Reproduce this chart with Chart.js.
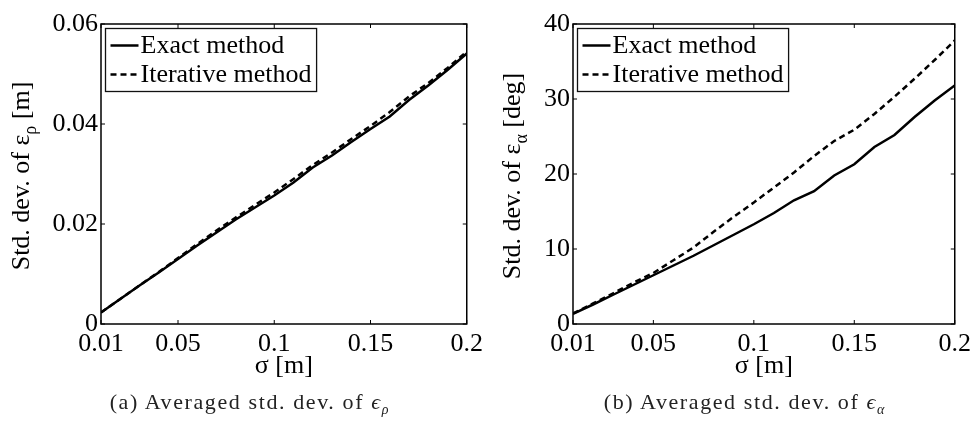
<!DOCTYPE html>
<html>
<head>
<meta charset="utf-8">
<script src="https://cdn.jsdelivr.net/npm/chart.js@4.4.1/dist/chart.umd.min.js"></script>
<style>
  html, body { margin: 0; padding: 0; background: #fff; }
  #fig { position: relative; width: 976px; height: 428px; overflow: hidden; }
  .panel { position: absolute; top: 0; width: 488px; height: 390px; }
  .caption {
    position: absolute; top: 389px; width: 488px; text-align: center;
    font-family: 'Liberation Serif', serif; font-size: 22px; letter-spacing: 1.6px; color: #222;
  }
  .caption sub { font-size: 14px; letter-spacing: 0; }
</style>
</head>
<body>
<div id="fig">
  <div class="panel" style="left:0"><canvas id="rhoChart" width="488" height="390"></canvas></div>
  <div class="panel" style="left:488px"><canvas id="alphaChart" width="488" height="390"></canvas></div>
  <div class="caption" style="left:5px">(a) Averaged std. dev. of <i>ϵ<sub>ρ</sub></i></div>
  <div class="caption" style="left:500px">(b) Averaged std. dev. of <i>ϵ<sub>α</sub></i></div>
</div>
<script>
// noise level sigma [m]
const sigma = [0.01, 0.02, 0.03, 0.04, 0.05, 0.06, 0.07, 0.08, 0.09, 0.10,
               0.11, 0.12, 0.13, 0.14, 0.15, 0.16, 0.17, 0.18, 0.19, 0.20];

// std. dev. of range error [m]
const exactRho = [0.0023, 0.0050, 0.0077, 0.0103, 0.0130, 0.0157, 0.0183, 0.0209, 0.0233, 0.0257,
                  0.0283, 0.0313, 0.0337, 0.0364, 0.0390, 0.0415, 0.0448, 0.0477, 0.0508, 0.0541];
const iterRho  = [0.0023, 0.0050, 0.0077, 0.0104, 0.0132, 0.0160, 0.0187, 0.0213, 0.0238, 0.0263,
                  0.0290, 0.0318, 0.0343, 0.0370, 0.0396, 0.0424, 0.0455, 0.0482, 0.0512, 0.0545];

// std. dev. of angle error [deg]
const exactAlpha = [1.35, 2.6, 3.9, 5.2, 6.5, 7.8, 9.1, 10.5, 11.9, 13.3,
                    14.8, 16.5, 17.7, 19.8, 21.3, 23.6, 25.2, 27.6, 29.8, 31.8];
const iterAlpha  = [1.4, 2.75, 4.1, 5.5, 6.8, 8.5, 10.2, 12.3, 14.3, 16.2,
                    18.2, 20.2, 22.4, 24.4, 25.9, 28.0, 30.3, 32.7, 35.2, 37.8];

const sigmaTicks = [0.01, 0.05, 0.1, 0.15, 0.2];
const rhoTicks = [0, 0.02, 0.04, 0.06];
const alphaTicks = [0, 10, 20, 30, 40];
const methodNames = ['Exact method', 'Iterative method'];

Chart.defaults.font.family = "'Liberation Serif', serif";
Chart.defaults.font.size = 26;
Chart.defaults.color = '#000';

// box around the plot with inward tick marks on all four sides
const frameTicks = {
  id: 'frameTicks',
  afterDatasetsDraw(chart) {
    const { ctx, chartArea: a, scales: { x, y } } = chart;
    const len = 4;
    ctx.save();
    ctx.strokeStyle = '#000';
    ctx.lineWidth = 1;
    ctx.beginPath();
    x.ticks.forEach(t => {
      const px = x.getPixelForValue(t.value);
      ctx.moveTo(px, a.bottom); ctx.lineTo(px, a.bottom - len);
      ctx.moveTo(px, a.top); ctx.lineTo(px, a.top + len);
    });
    y.ticks.forEach(t => {
      const py = y.getPixelForValue(t.value);
      ctx.moveTo(a.left, py); ctx.lineTo(a.left + len, py);
      ctx.moveTo(a.right, py); ctx.lineTo(a.right - len, py);
    });
    ctx.stroke();
    ctx.lineWidth = 1.5;
    ctx.strokeRect(a.left, a.top, a.right - a.left, a.bottom - a.top);
    ctx.restore();
  }
};

// boxed legend in the upper left corner of the plot
const boxLegend = {
  id: 'boxLegend',
  afterDraw(chart) {
    const { ctx, chartArea: a } = chart;
    const sets = chart.data.datasets;
    ctx.save();
    ctx.font = "26px 'Liberation Serif', serif";
    const textW = Math.max(...sets.map(d => ctx.measureText(d.label).width));
    const bx = a.left + 4.5, by = a.top + 4.5;
    const bw = 36 + textW + 4, bh = 63;
    ctx.fillStyle = '#fff';
    ctx.fillRect(bx, by, bw, bh);
    ctx.strokeStyle = '#111';
    ctx.lineWidth = 1.3;
    ctx.strokeRect(bx, by, bw, bh);
    sets.forEach((d, i) => {
      const cy = by + 17 + i * 29;
      ctx.beginPath();
      ctx.setLineDash(d.borderDash || []);
      ctx.lineWidth = d.borderWidth;
      ctx.strokeStyle = d.borderColor;
      ctx.moveTo(bx + 5, cy);
      ctx.lineTo(bx + 33, cy);
      ctx.stroke();
      ctx.setLineDash([]);
      ctx.fillStyle = '#000';
      ctx.textBaseline = 'middle';
      ctx.fillText(d.label, bx + 35, cy + 1);
    });
    ctx.restore();
  }
};

// rotated y title with a subscript
function yTitle(main, sub, tail, cx) {
  return {
    id: 'yTitle',
    afterDraw(chart) {
      const { ctx, chartArea: a } = chart;
      const big = "26px 'Liberation Serif', serif";
      const small = "18px 'Liberation Serif', serif";
      ctx.save();
      ctx.font = big;
      const w1 = ctx.measureText(main).width;
      const w3 = ctx.measureText(tail).width;
      ctx.font = small;
      const w2 = ctx.measureText(sub).width;
      const total = w1 + w2 + w3;
      ctx.translate(cx, (a.top + a.bottom) / 2 + 2);
      ctx.rotate(-Math.PI / 2);
      ctx.fillStyle = '#000';
      ctx.textBaseline = 'middle';
      let x0 = -total / 2;
      ctx.font = big;
      ctx.fillText(main, x0, 0);
      ctx.font = small;
      ctx.fillText(sub, x0 + w1, 9);
      ctx.font = big;
      ctx.fillText(tail, x0 + w1 + w2, 0);
      ctx.restore();
    }
  };
}

function makeChart(id, exact, iter, yTicks, yLabel, yWidth, padRight) {
  return new Chart(document.getElementById(id), {
    type: 'line',
    data: {
      labels: sigma,
      datasets: [{
        label: methodNames[0],
        data: exact,
        borderColor: '#000',
        borderWidth: 2.5,
        pointRadius: 0,
        tension: 0
      }, {
        label: methodNames[1],
        data: iter,
        borderColor: '#000',
        borderWidth: 2.5,
        borderDash: [6, 4],
        pointRadius: 0,
        tension: 0
      }]
    },
    options: {
      responsive: false,
      animation: false,
      layout: { padding: { left: 0, right: padRight, top: 24, bottom: 0 } },
      plugins: { legend: { display: false }, tooltip: { enabled: false } },
      scales: {
        x: {
          type: 'linear',
          min: sigmaTicks[0],
          max: sigmaTicks[sigmaTicks.length - 1],
          afterBuildTicks: s => { s.ticks = sigmaTicks.map(v => ({ value: v })); },
          afterFit: s => { s.height = 66; },
          grid: { display: false, drawTicks: false },
          border: { display: false },
          ticks: { padding: 5, maxRotation: 0, autoSkip: false, callback: v => String(v) },
          title: { display: true, text: 'σ [m]', padding: { top: 0, bottom: 8 } }
        },
        y: {
          min: yTicks[0],
          max: yTicks[yTicks.length - 1],
          afterBuildTicks: s => { s.ticks = yTicks.map(v => ({ value: v })); },
          afterFit: s => { s.width = yWidth; },
          grid: { display: false, drawTicks: false },
          border: { display: false },
          ticks: { padding: 3, callback: v => String(v) }
        }
      }
    },
    plugins: [frameTicks, boxLegend, yLabel]
  });
}

makeChart('rhoChart', exactRho, iterRho, rhoTicks,
  yTitle('Std. dev. of ε', 'ρ', ' [m]', 22), 101, 21);
makeChart('alphaChart', exactAlpha, iterAlpha, alphaTicks,
  yTitle('Std. dev. of ε', 'α', ' [deg]', 25), 85, 17);
</script>
</body>
</html>
